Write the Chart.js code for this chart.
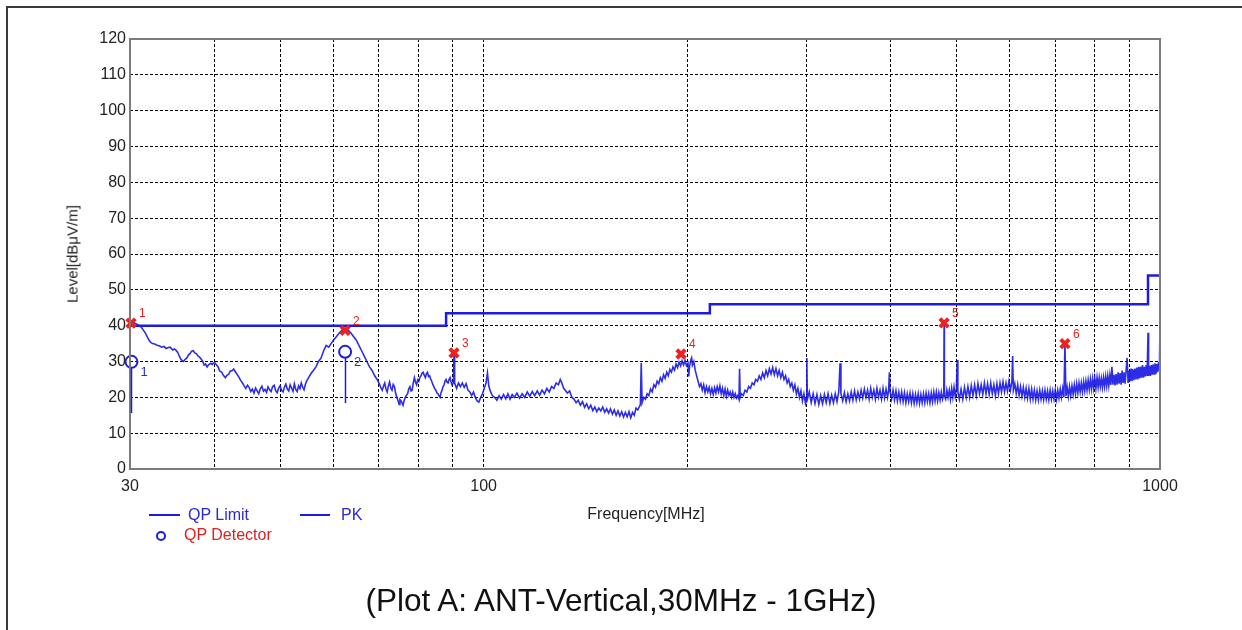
<!DOCTYPE html>
<html>
<head>
<meta charset="utf-8">
<script src="https://cdn.jsdelivr.net/npm/chart.js@4/dist/chart.umd.min.js"></script>
<style>
  body { margin: 0; background: #fff; font-family: "Liberation Sans", Arial, sans-serif; }
  #wrap { position: relative; width: 1242px; height: 630px; overflow: hidden; background: #fff; }
  #frame { position: absolute; left: 6px; top: 6px; width: 1300px; height: 700px; border: 2px solid #3a3a3a; }
  #chart { position: absolute; left: 0; top: 0; }
  .t { position: absolute; white-space: nowrap; line-height: 1; }
  .ln { position: absolute; height: 2px; background: #1c1ce0; }
</style>
</head>
<body>
<div id="wrap">
  <div id="frame"></div>
  <canvas id="chart" width="1242" height="630"></canvas>
  <div class="t" id="ytitle" style="left:72px;top:254px;font-size:15px;color:#222;transform:translate(-50%,-50%) rotate(-90deg);">Level[dBμV/m]</div>
  <div class="t" style="left:646px;top:514px;font-size:16px;color:#222;transform:translate(-50%,-50%);">Frequency[MHz]</div>
  <div class="ln" style="left:149px;top:514px;width:31px;"></div>
  <div class="t" style="left:188px;top:515px;font-size:16px;color:#2a2ad0;transform:translateY(-50%);">QP Limit</div>
  <div class="ln" style="left:300px;top:514px;width:30px;"></div>
  <div class="t" style="left:341px;top:515px;font-size:16px;color:#2a2ad0;transform:translateY(-50%);">PK</div>
  <div style="position:absolute;left:156px;top:531px;width:6px;height:6px;border:2px solid #1c1ce0;border-radius:50%;"></div>
  <div class="t" style="left:184px;top:535px;font-size:16px;color:#e02020;transform:translateY(-50%);">QP Detector</div>
  <div class="t" style="left:621px;top:601px;font-size:31.5px;color:#111;transform:translate(-50%,-50%);">(Plot A: ANT-Vertical,30MHz - 1GHz)</div>
</div>
<script>
// axis ticks
const xGrid = [30, 40, 50, 60, 70, 80, 90, 100, 200, 300, 400, 500, 600, 700, 800, 900, 1000];
const xLabelled = [30, 100, 1000];

// QP limit (level holds until the next frequency)
const limitFreq = [30, 88, 216, 960, 1000];
const limitLevel = [40, 43.5, 46, 54, 54];

// peak markers
const markerFreq = [30.1, 62.4, 90.4, 195.8, 479.5, 723.5];
const markerLevel = [40.7, 38.7, 32.4, 32.1, 40.8, 35.0];

// QP detector readings and their stems
const qpFreq = [30.15, 62.4];
const qpLevel = [29.9, 32.7];
const qpStem = [15.6, 18.4];

// PK sweep [MHz, dBuV/m]
const pkTrace = [
  [30,41],[30.4,40.8],[30.8,40.3],[31.2,39.5],[31.6,38],[32,36],[32.2,35.3],[32.4,35],[32.7,34.8],[32.9,34.5],
  [33.2,34.3],[33.4,34],[33.7,34.2],[33.9,33.6],[34.2,33.9],[34.4,34],[34.7,33.2],[34.9,33.5],[35.1,33.1],[35.3,32.5],
  [35.5,31.4],[35.7,30.5],[36,30],[36.2,30.6],[36.4,31],[36.6,31.8],[36.8,32.2],[37,32.9],[37.2,33],[37.4,32.4],
  [37.6,32.2],[37.8,31.6],[38.1,31],[38.4,30.2],[38.6,29],[38.8,29.3],[39,28.5],[39.2,29.1],[39.5,29.5],[39.7,29.2],
  [40,29.8],[40.2,29.2],[40.5,28.5],[40.7,27.4],[41,27],[41.2,26.2],[41.5,25.5],[41.7,26.1],[42,26.5],[42.2,27.3],
  [42.5,27.5],[42.7,27.9],[43,27],[43.2,26.4],[43.5,25.5],[43.7,24.8],[44,24],[44.25,23.2],[44.5,22.5],[44.75,23.4],
  [45,22.8],[45.25,21.6],[45.5,22.3],[45.75,21.2],[46,22.6],[46.25,21.8],[46.5,21],[46.75,22.4],[47,23.1],[47.25,21.7],
  [47.5,22.2],[47.75,21.4],[48,22.9],[48.25,22.1],[48.5,21.6],[48.75,23],[49,23.4],[49.25,21.9],[49.5,21.3],[49.75,22.5],
  [50,23.2],[50.25,22],[50.5,21.5],[50.75,22.8],[51,23.7],[51.25,22.3],[51.5,21.8],[51.75,23.5],[52,22.6],[52.25,21.7],
  [52.5,23.8],[52.75,22.2],[53,21.6],[53.25,23.2],[53.5,22.4],[53.75,24],[54,22.8],[54.25,22.1],[54.5,23.6],[54.75,24.6],
  [55,25.2],[55.5,26.5],[56,27.5],[56.5,28.5],[57,30],[57.5,31],[58,33],[58.5,34.5],[59,34],[59.5,35],
  [60,36],[60.6,37],[61.2,38],[61.8,38.8],[62.4,39],[63,38.8],[63.6,38],[64.2,37],[64.8,36],[65.4,34.5],
  [66,33],[66.6,31.5],[67.2,30],[67.8,28.5],[68.4,27.5],[69,26],[69.6,25],[70.2,23.5],[70.5,22.6],[70.8,22],
  [71.1,23.1],[71.4,24],[71.7,22.4],[72,21.5],[72.3,23.2],[72.6,24.3],[72.9,22.6],[73.2,22],[73.5,23.6],[73.8,23],
  [74.1,21.2],[74.4,20],[74.7,19.1],[75,18],[75.2,19.4],[75.5,19],[75.8,18.3],[76,17.8],[76.3,19.2],[76.6,20],
  [76.9,20.6],[77.2,21],[77.5,22.4],[77.8,23],[78.1,21.8],[78.4,22],[78.7,24.1],[79,25.5],[79.3,24.2],[79.6,23.5],
  [79.9,24.9],[80.2,24.5],[80.5,25.6],[80.8,26],[81.1,26.8],[81.4,27],[81.7,26.1],[82,25.5],[82.3,26.6],[82.6,27],
  [82.9,25.8],[83.2,26],[83.5,25.1],[83.8,24.5],[84.1,23.6],[84.4,23],[84.7,22.3],[85,22],[85.3,21.2],[85.6,21],
  [85.9,20.4],[86.2,20],[86.5,21.3],[86.8,22],[87.1,23],[87.4,23.5],[87.7,24.6],[88,25],[88.3,24.2],[88.6,24],
  [88.9,25],[89.2,25.5],[89.5,24.3],[89.8,23.5],[90.2,24],[90.4,32.4],[90.6,24],[91.2,22.5],[91.8,24],[92.4,23],
  [93,24],[93.6,22.8],[94.2,23.8],[94.8,22],[95.4,21.5],[96,20.5],[96.6,21.5],[97.2,20],[97.8,19],[98.4,18.7],
  [99,20],[99.6,21],[100.2,22.5],[100.8,24],[101.3,26.8],[101.8,23],[102.4,21.5],[103,20.5],[103.8,20],[104.6,19.2],
  [105.4,20.5],[106.2,19.5],[107,20.8],[107.8,19.6],[108.6,21],[109.4,19.5],[110.2,20.8],[111,20],[112,21.2],[113,19.8],
  [114,21],[115,20],[116,21.5],[117,20.3],[118,21.6],[119,20.5],[120,21.8],[121,20.6],[122,22],[123,21],
  [124,22.5],[125,21.5],[126,23],[127,22.5],[128,24],[129,23.5],[129.8,25],[130.5,24],[131.3,22.5],[132,22],
  [133,21.2],[134,21.8],[135,20],[136,19.5],[137,18.5],[138,19.2],[139,17.8],[140,18.8],[141,17.2],[142,18.2],
  [143,16.8],[144,17.8],[145,16.3],[146,17.3],[147,16],[148,17],[149,16.2],[150,17.3],[151,15.8],[152,16.8],
  [153,15.6],[154,16.8],[155,15.3],[156,16.5],[157,15],[158,16.2],[159,14.8],[160,16],[161,14.5],[162,15.8],
  [163,14.6],[164,16],[165,14.3],[166,15.8],[167,15],[168,17],[169,16.5],[170.5,18],[171,29.6],[171.5,18.5],
  [172.5,20],[173.5,19.5],[174.5,21],[175.5,20.5],[176.5,22.3],[177.5,21.5],[178.5,23.5],[179.5,22.8],[180.5,24.5],[181.5,23.8],
  [182.5,25.5],[183.5,24.5],[184.5,26.3],[185.5,25.3],[186.5,27],[187.5,26],[188.5,27.8],[189.5,27],[190.5,28.5],[191.5,27.6],
  [192.5,29.3],[193.5,28.3],[194.5,29.8],[195.5,28.8],[196.5,30.2],[197.5,29],[198.5,30.3],[199.5,28.8],[200.5,29.5],[201,25.8],
  [201.5,28.5],[202.5,30.5],[203,31],[203.5,29],[204.5,30],[205.5,27.5],[206.5,26],[207.5,24.5],[208.5,23],[209.5,23.8],
  [210.5,22],[211.5,23.5],[212.5,21.3],[213.5,23],[214.5,21.5],[215.5,22.8],[216.5,21],[217.5,22.5],[218.5,20.8],[219.5,22.7],
  [220.5,21.2],[221.5,23],[222.5,21.5],[223.5,23.2],[224.5,21],[225.5,22.5],[226.5,20.5],[227.5,22.3],[228.5,20.3],[229.5,22],
  [230.5,20.5],[231.5,21.5],[232.5,20],[233.5,21.5],[234.5,20],[235.5,21],[236.5,19.8],[237.5,20.5],[238.5,19.5],[239,28],
  [239.5,20],[240.5,21],[242,20.5],[243.5,22],[245,21.5],[246.5,23],[248,22.5],[249.5,24],[251,23.5],[252.5,25],
  [254,24.5],[255.5,26],[257,25],[258.5,26.8],[260,25.5],[261.5,27.5],[263,26],[264.5,28],[266,26.5],[267.5,28.3],
  [269,26.3],[270.5,28],[272,26],[273.5,27.5],[275,25.5],[276.5,27],[278,25],[279.5,26],[281,24],[282.5,25],
  [284,23],[285.5,24],[287,22],[288.5,23.5],[290,21],[291.5,22.5],[293,20],[294.5,21.8],[296,19],[297.5,21],
  [299,18.5],[300,20],[300.5,31],[301,19.5],[303,21.5],[305,18.5],[307,21],[309,18.3],[311,20.8],[313,18],
  [315,20.5],[317,18.2],[319,20.8],[321,18.5],[323,21],[325,18.3],[327,20.6],[329,18.5],[331,21],[333,18.8],
  [335,21.5],[336.5,29.5],[337.5,21],[339.5,19],[341.5,21.3],[343.5,18.8],[345.5,21],[347.5,19],[349.5,21.5],[351.5,19.2],
  [353.5,21.8],[355.5,19.3],[357.5,21.5],[359.5,19.5],[361.5,22],[363.5,19.8],[365.5,22.3],[367.5,20],[369.5,22],[371.5,19.5],
  [373.5,22.5],[375.5,20],[377.5,22],[379.5,19.5],[381.5,22.5],[383.5,20],[385.5,22],[387.5,19.5],[389.5,22.5],[391.5,19.8],
  [393.5,22.3],[395.5,20],[397,22],[398,27],[399,21.5],[401,19.5],[403,22],[405,19.3],[407,21.8],[409,19],
  [411,21.5],[413,19],[415,21.5],[417,18.8],[419,21.3],[421,18.5],[423,21],[425,18.8],[427,21.2],[429,18.5],
  [431,21],[433,18.3],[435,20.8],[437,18.5],[439,21],[441,18.3],[443,20.8],[445,18.5],[447,21],[449,18.5],
  [451,21.2],[453,18.8],[455,21],[457,18.5],[459,21.2],[461,18.8],[463,21.5],[465,19],[467,21.5],[469,19],
  [471,21.3],[473,19.2],[475,21.5],[477,19.5],[479,21],[479.5,40.8],[480,20.5],[482,19.5],[484,22],[486,20],
  [488,22],[490,19.5],[492,22.5],[494,20],[496,22.8],[498,20.3],[500,22.5],[501.5,30.4],[502.5,21.5],[505,19.5],
  [508,22.3],[511,19.5],[514,22.8],[517,20],[520,23],[523,20],[526,23.3],[529,20.5],[532,23.5],[535,20.5],
  [538,23.8],[541,21],[544,23.5],[547,20.8],[550,24],[553,21],[556,23.8],[559,20.8],[562,24],[565,21],
  [568,23.5],[571,20.5],[574,23.8],[577,21],[580,24],[583,21.5],[586,24.3],[589,21.5],[592,24],[595,21.8],
  [598,24.5],[601,22],[604,24.5],[605.5,31.5],[607,22],[610,23.8],[613,21],[616,23.5],[619,20.5],[622,23],
  [625,20.3],[628,22.8],[631,20],[634,22.5],[637,19.8],[640,22.5],[643,19.5],[646,22.3],[649,19.5],[652,22],
  [655,19.3],[658,21.8],[661,19.3],[664,22],[667,19.5],[670,21.8],[673,19.3],[676,22],[679,19.5],[682,21.8],
  [685,19.3],[688,22],[691,19.5],[694,21.8],[697,19.5],[700,22],[703,19.5],[706,22],[709,19.8],[712,22.3],
  [715,20],[718,22.5],[721,20],[723.5,35],[726,20.3],[729,22.8],[732,20.2],[735,23],[738,20.5],[741,23.2],
  [744,20.8],[747,23.5],[750,21],[753,23.8],[756,21.2],[759,24],[762,21.5],[765,24],[768,21.5],[771,24.3],
  [774,21.8],[777,24.5],[780,22],[783,24.8],[786,22.2],[789,25],[792,22.3],[795,25.2],[798,22.5],[801,25.3],
  [804,22.5],[807,25.5],[810,22.8],[813,25.5],[816,23],[819,25.3],[822,22.8],[825,25.5],[828,23],[831,25.8],
  [834,23.2],[837,26],[840,23.3],[843,26.2],[846,23.5],[849,28.5],[852,23.5],[855,26.3],[858,23.3],[861,26.5],
  [864,23.5],[867,27],[870,23.8],[873,26.8],[876,23.5],[879,27.5],[882,24],[885,27],[888,23.8],[891,27.5],
  [894,31],[897,24],[900,27.5],[903,24.5],[906,28],[909,24.5],[912,27.8],[915,24.8],[918,28],[921,25],
  [924,28.3],[927,25],[930,28.5],[933,25.3],[936,28.5],[939,25.5],[942,29],[945,25.5],[948,28.5],[951,25.8],
  [954,29],[957,26],[960,38],[962,26],[965,28.8],[968,26],[971,29],[974,26.3],[977,29.2],[980,26.5],
  [983,29.5],[986,26.5],[989,29.3],[992,27],[995,29.8],[998,27.5],[1000,41.3]
];

const BLUE = '#1c1ce0';
const RED = '#ee2020';

const pairs = (xs, ys) => xs.map((f, i) => ({ x: f, y: ys[i] }));

// frame, QP stems and the little number labels
const extras = {
  id: 'extras',
  afterDatasetsDraw(chart) {
    const { ctx, chartArea: a, scales: { x, y } } = chart;
    ctx.save();
    ctx.strokeStyle = '#7c7c7c';
    ctx.lineWidth = 2;
    ctx.strokeRect(a.left, a.top, a.right - a.left, a.bottom - a.top);

    ctx.strokeStyle = BLUE;
    ctx.lineWidth = 1.5;
    qpFreq.forEach((f, i) => {
      const px = Math.round(x.getPixelForValue(f)) + 0.5;
      ctx.beginPath();
      ctx.moveTo(px, y.getPixelForValue(qpLevel[i]) + 6);
      ctx.lineTo(px, y.getPixelForValue(qpStem[i]));
      ctx.stroke();
    });

    ctx.font = '12px "Liberation Sans", Arial, sans-serif';
    ctx.textBaseline = 'middle';
    ctx.fillStyle = RED;
    markerFreq.forEach((f, i) => {
      ctx.fillText(String(i + 1), x.getPixelForValue(f) + 8, y.getPixelForValue(markerLevel[i]) - 9);
    });
    ctx.font = '13px "Liberation Sans", Arial, sans-serif';
    ctx.fillStyle = '#3030c0';
    qpFreq.forEach((f, i) => {
      ctx.fillText(String(i + 1), x.getPixelForValue(f) + 9, y.getPixelForValue(qpLevel[i]) + 11);
    });
    ctx.restore();
  }
};

Chart.defaults.font.family = '"Liberation Sans", Arial, sans-serif';

new Chart(document.getElementById('chart'), {
  type: 'scatter',
  data: {
    datasets: [
      {
        label: 'Markers',
        data: pairs(markerFreq, markerLevel),
        showLine: false,
        pointStyle: 'crossRot',
        pointRadius: 6,
        pointBorderWidth: 4,
        borderColor: RED,
        backgroundColor: RED,
        clip: false
      },
      {
        label: 'QP Detector',
        data: pairs(qpFreq, qpLevel),
        showLine: false,
        pointStyle: 'circle',
        pointRadius: 6,
        pointBorderWidth: 2,
        borderColor: BLUE,
        backgroundColor: 'rgba(0,0,0,0)',
        clip: false
      },
      {
        label: 'QP Limit',
        data: pairs(limitFreq, limitLevel),
        showLine: true,
        stepped: true,
        borderColor: BLUE,
        borderWidth: 2.5,
        pointRadius: 0
      },
      {
        label: 'PK',
        data: pkTrace.map(p => ({ x: p[0], y: p[1] })),
        showLine: true,
        borderColor: 'rgba(22,22,228,0.9)',
        borderWidth: 1.6,
        pointRadius: 0,
        tension: 0
      }
    ]
  },
  options: {
    responsive: false,
    devicePixelRatio: 1,
    animation: false,
    events: [],
    layout: { padding: { top: 39, right: 82, bottom: 0, left: 0 } },
    plugins: { legend: { display: false }, tooltip: { enabled: false } },
    scales: {
      x: {
        type: 'logarithmic',
        min: 30,
        max: 1000,
        afterBuildTicks: s => { s.ticks = xGrid.map(v => ({ value: v })); },
        afterFit: s => { s.height = 161; },
        ticks: {
          autoSkip: false,
          maxRotation: 0,
          padding: 8,
          color: '#222',
          font: { size: 16 },
          callback: v => xLabelled.includes(Math.round(v)) ? String(Math.round(v)) : ''
        },
        grid: { color: '#000', lineWidth: 1, drawTicks: false },
        border: { display: false, dash: [3, 2] }
      },
      y: {
        min: 0,
        max: 120,
        afterFit: s => { s.width = 130; },
        ticks: { stepSize: 10, padding: 4, color: '#222', font: { size: 16 } },
        grid: { color: '#000', lineWidth: 1, drawTicks: false },
        border: { display: false, dash: [3, 2] }
      }
    }
  },
  plugins: [extras]
});
</script>
</body>
</html>
